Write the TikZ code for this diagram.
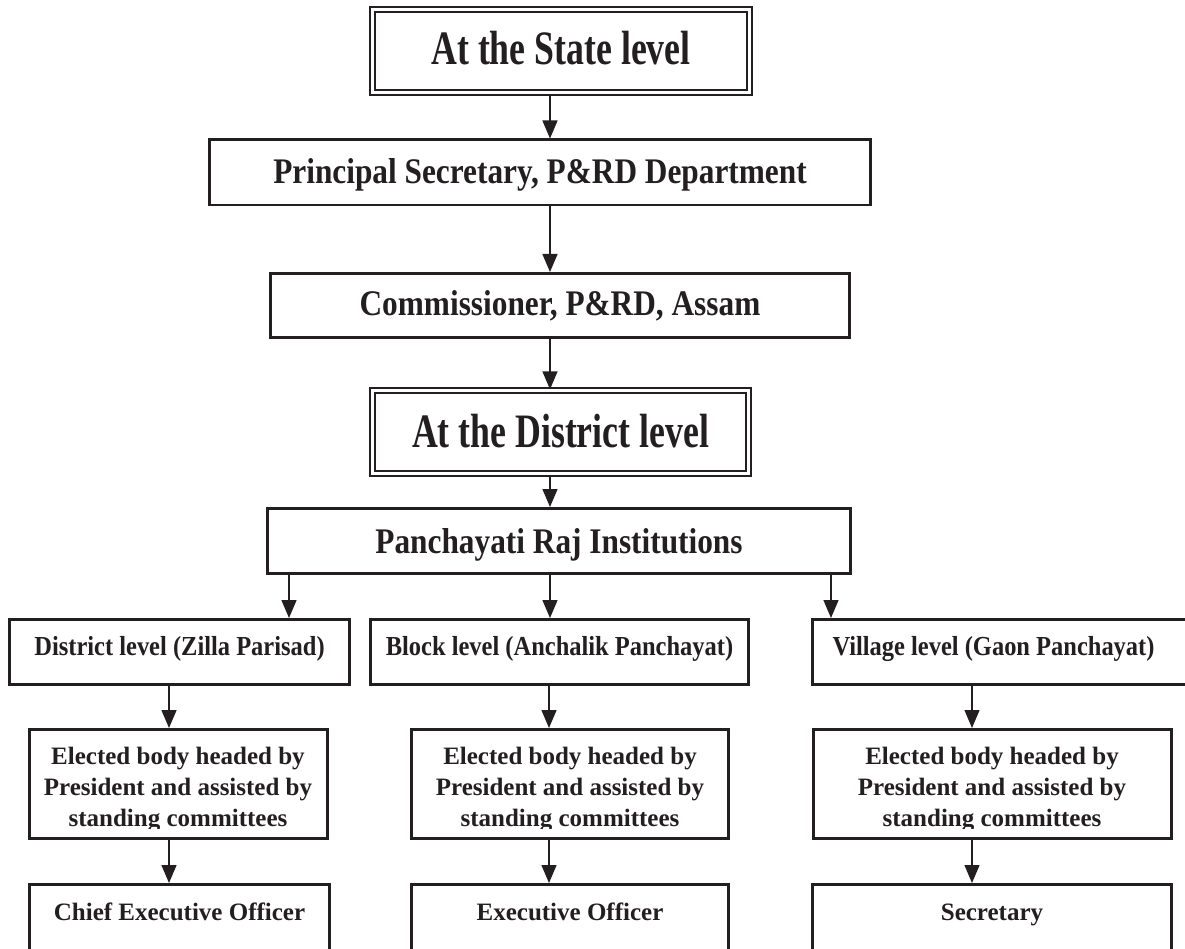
\documentclass[tikz,border=0pt]{standalone}
\usepackage{fontspec}
\setmainfont{Liberation Serif}
\newfontface\fTitle{Liberation Serif Bold}[FakeStretch=0.745]
\newfontface\fMid{Liberation Serif Bold}[FakeStretch=0.87]
\newfontface\fLev{Liberation Serif Bold}[FakeStretch=0.89]
\newfontface\fBody{Liberation Serif Bold}
\usetikzlibrary{arrows.meta}
\definecolor{ink}{HTML}{231F20}
\begin{document}
\begin{tikzpicture}[x=1pt,y=-1pt,
  every node/.style={inner sep=0pt, text=ink},
  box/.style={draw=ink, line width=2.8pt, rectangle, minimum height=65.2pt},
  dbox/.style={draw=ink, double=white, line width=2.2pt, double distance=2.5pt, rectangle, minimum height=83.1pt},
  titletext/.style={font=\fontsize{48}{56}\fTitle, text depth=0pt},
  midtext/.style={font=\fontsize{36}{42}\fMid, text depth=0pt},
  levtext/.style={font=\fontsize{27.5}{32}\fLev, text height=6pt, text depth=0pt},
  bodytext/.style={font=\fontsize{25}{31}\fBody, align=center},
  arr/.style={draw=ink, line width=1.4pt, -{Triangle[width=15pt,length=18pt]}}
]
\useasboundingbox (0,0) rectangle (1185,949);
\fill[white] (0,0) rectangle (1185,949);
\clip (0,0) rectangle (1185,949);

% x positions of the connectors
\coordinate (xT) at (550,0);
\coordinate (xL) at (289,0);
\coordinate (xR) at (831,0);
\coordinate (xLL) at (169,0);
\coordinate (xMM) at (549,0);
\coordinate (xRR) at (972,0);
\coordinate (cliplevel) at (0,828);

% state level
\node[dbox, minimum width=377pt, titletext, text height=28pt] (state) at (561,51) {At the State level};
\node[box, minimum width=661.2pt, minimum height=65.2pt, midtext, text height=22pt] (prin) at (540,172.5) {Principal Secretary, P\&RD Department};
\node[box, minimum width=579.2pt, minimum height=64.2pt, midtext, text height=21pt] (comm) at (560,305.5) {Commissioner, P\&RD, Assam};

% district level
\node[dbox, minimum width=376.1pt, titletext, text height=30pt] (dist) at (560.5,432) {At the District level};
\node[box, minimum width=583.2pt, minimum height=65.2pt, midtext, text height=25pt] (panch) at (559,541) {Panchayati Raj Institutions};

% three tiers
\node[box, levtext, minimum width=340.2pt] (zp) at (179.5,652) {District level (Zilla Parisad)};
\node[box, levtext, minimum width=378.2pt] (ap) at (559.5,652) {Block level (Anchalik Panchayat)};
\node[box, levtext, minimum width=381.2pt] (gp) at (1003,652) {Village level (Gaon Panchayat)\hspace*{19pt}};

% elected bodies
\node[box, minimum width=298.2pt, minimum height=109.2pt] (eL) at (178.5,784) {};
\node[box, minimum width=317.2pt, minimum height=109.2pt] (eM) at (570,784) {};
\node[box, minimum width=358.2pt, minimum height=109.2pt] (eR) at (992.5,784) {};
\begin{scope}
  \clip (eL.north west) rectangle (eR.east |- cliplevel);
  \node[bodytext, anchor=north] (eLt) at (178,747) {Elected body headed by\\President and assisted by\\standing committees};
  \node[bodytext, anchor=north] (eMt) at (570,747) {Elected body headed by\\President and assisted by\\standing committees};
  \node[bodytext, anchor=north] (eRt) at (992,747) {Elected body headed by\\President and assisted by\\standing committees};
\end{scope}

% officers
\node[box, minimum width=300.2pt, minimum height=74.2pt, font=\fontsize{25}{31}\fBody, text height=17pt, text depth=20pt] (cL) at (179.5,921.5) {Chief Executive Officer};
\node[box, minimum width=317.2pt, minimum height=74.2pt, font=\fontsize{25}{31}\fBody, text height=17pt, text depth=20pt] (cM) at (570,921.5) {Executive Officer};
\node[box, minimum width=359.2pt, minimum height=74.2pt, font=\fontsize{25}{31}\fBody, text height=17pt, text depth=20pt] (cR) at (992,921.5) {Secretary};

% connectors
\draw[arr] (state.south -| xT) -- (prin.north -| xT);
\draw[arr] (prin.south -| xT) -- (comm.north -| xT);
\draw[arr] (comm.south -| xT) -- (dist.north -| xT);
\draw[arr] (dist.south -| xT) -- (panch.north -| xT);
\draw[arr] (panch.south -| xL) -- (zp.north -| xL);
\draw[arr] (panch.south -| xT) -- (ap.north -| xT);
\draw[arr] (panch.south -| xR) -- (gp.north -| xR);
\draw[arr] (zp.south -| xLL) -- (eL.north -| xLL);
\draw[arr] (ap.south -| xMM) -- (eM.north -| xMM);
\draw[arr] (gp.south -| xRR) -- (eR.north -| xRR);
\draw[arr] (eL.south -| xLL) -- (cL.north -| xLL);
\draw[arr] (eM.south -| xMM) -- (cM.north -| xMM);
\draw[arr] (eR.south -| xRR) -- (cR.north -| xRR);
\end{tikzpicture}
\end{document}
